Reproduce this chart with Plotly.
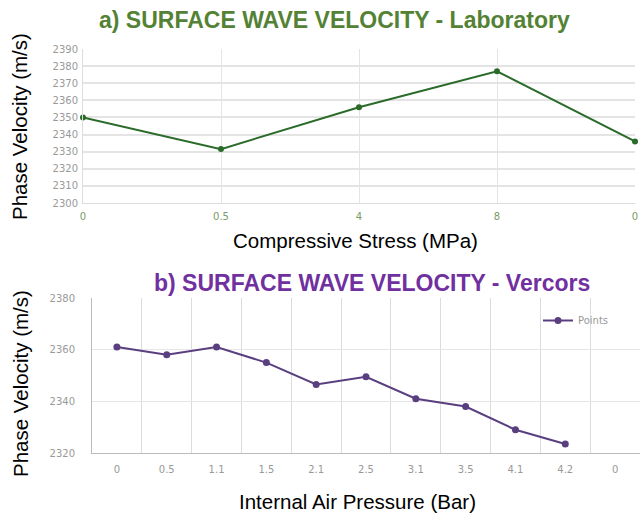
import plotly.graph_objects as go

# Top chart (a)
stress_labels = ["0", "0.5", "4", "8", "0"]
lab_velocity = [2350, 2331.5, 2356, 2377, 2336]

# Bottom chart (b)
pressure_labels = ["0", "0.5", "1.1", "1.5", "2.1", "2.5", "3.1", "3.5", "4.1", "4.2", "0"]
vercors_velocity = [2361, 2358, 2361, 2355, 2346.5, 2349.5, 2341, 2338, 2329, 2323.5, None]

W, H = 640, 513
def px(x):
    return x / W
def py(y):
    return 1 - y / H

fig = go.Figure()

fig.add_trace(go.Scatter(
    x=list(range(len(stress_labels))), y=lab_velocity, mode="lines+markers",
    line=dict(color="#2a6b2a", width=2), marker=dict(color="#2a6b2a", size=6),
    xaxis="x", yaxis="y", showlegend=False, name="Laboratory", cliponaxis=False))

fig.add_trace(go.Scatter(
    x=list(range(len(pressure_labels))), y=vercors_velocity, mode="lines+markers",
    line=dict(color="#5a3f80", width=2), marker=dict(color="#5a3f80", size=7),
    xaxis="x2", yaxis="y2", showlegend=True, name="Points"))

tickfont = dict(family="DejaVu Sans", size=10, color="#999999")

fig.update_layout(
    width=W, height=H,
    margin=dict(l=0, r=0, t=0, b=0, autoexpand=False),
    paper_bgcolor="white", plot_bgcolor="white",
    showlegend=True,
    legend=dict(x=px(538), y=py(306), xanchor="left", yanchor="top",
                bgcolor="rgba(0,0,0,0)", font=dict(family="DejaVu Sans", size=10, color="#999999")),
    xaxis=dict(
        domain=[px(83), px(635)], range=[0, len(stress_labels) - 1],
        tickmode="array", tickvals=list(range(len(stress_labels))), ticktext=stress_labels,
        showgrid=True, gridcolor="#e4e4e4", gridwidth=1, zeroline=False,
        showline=True, linecolor="#dddddd",
        ticks="outside", ticklen=4, tickcolor="rgba(0,0,0,0)",
        tickfont=dict(family="DejaVu Sans", size=10, color="#7a9a6a"),
        anchor="y", automargin=False),
    yaxis=dict(
        domain=[py(203), py(49)], range=[2300, 2390],
        tickmode="linear", tick0=2300, dtick=10,
        showgrid=True, gridcolor="#e4e4e4", gridwidth=2, zeroline=False,
        showline=True, linecolor="#dddddd",
        ticks="outside", ticklen=2, tickcolor="rgba(0,0,0,0)",
        tickfont=tickfont, anchor="x", automargin=False),
    xaxis2=dict(
        domain=[px(92), px(640)], range=[-0.5, len(pressure_labels) - 0.5],
        tickmode="array", tickvals=list(range(len(pressure_labels))), ticktext=pressure_labels,
        showgrid=False, zeroline=False,
        minor=dict(tick0=-0.5, dtick=1, showgrid=True, gridcolor="#dcdcdc", gridwidth=1),
        showline=True, linecolor="#bbbbbb",
        ticks="outside", ticklen=7, tickcolor="rgba(0,0,0,0)",
        tickfont=tickfont, anchor="y2", automargin=False),
    yaxis2=dict(
        domain=[py(453), py(298)], range=[2320, 2380],
        tickmode="linear", tick0=2320, dtick=20,
        showgrid=True, gridcolor="#e6e6e6", gridwidth=1, zeroline=False,
        showline=True, linecolor="#bbbbbb",
        ticks="outside", ticklen=14, tickcolor="rgba(0,0,0,0)",
        tickfont=tickfont, anchor="x2", automargin=False),
)

ann = []
ann.append(dict(text="<b>a) SURFACE WAVE VELOCITY - Laboratory</b>", x=px(334), y=py(20),
                xref="paper", yref="paper", showarrow=False,
                xanchor="center", yanchor="middle",
                font=dict(family="Liberation Sans", size=23, color="#548235")))
ann.append(dict(text="<b>b) SURFACE WAVE VELOCITY - Vercors</b>", x=px(372), y=py(283),
                xref="paper", yref="paper", showarrow=False,
                xanchor="center", yanchor="middle",
                font=dict(family="Liberation Sans", size=23, color="#7030a0")))
ann.append(dict(text="Phase Velocity (m/s)", x=px(20), y=py(127), textangle=-90,
                xref="paper", yref="paper", showarrow=False,
                xanchor="center", yanchor="middle",
                font=dict(family="Liberation Sans", size=20.5, color="black")))
ann.append(dict(text="Phase Velocity (m/s)", x=px(20), y=py(384), textangle=-90,
                xref="paper", yref="paper", showarrow=False,
                xanchor="center", yanchor="middle",
                font=dict(family="Liberation Sans", size=20.5, color="black")))
ann.append(dict(text="Compressive Stress (MPa)", x=px(355), y=py(240),
                xref="paper", yref="paper", showarrow=False,
                xanchor="center", yanchor="middle",
                font=dict(family="Liberation Sans", size=20.5, color="black")))
ann.append(dict(text="Internal Air Pressure (Bar)", x=px(357), y=py(501),
                xref="paper", yref="paper", showarrow=False,
                xanchor="center", yanchor="middle",
                font=dict(family="Liberation Sans", size=20.5, color="black")))
fig.update_layout(annotations=ann)

fig.write_html("out.html", config={"displayModeBar": False},
               post_script="document.body.style.margin='0';document.body.style.overflow='hidden';")
